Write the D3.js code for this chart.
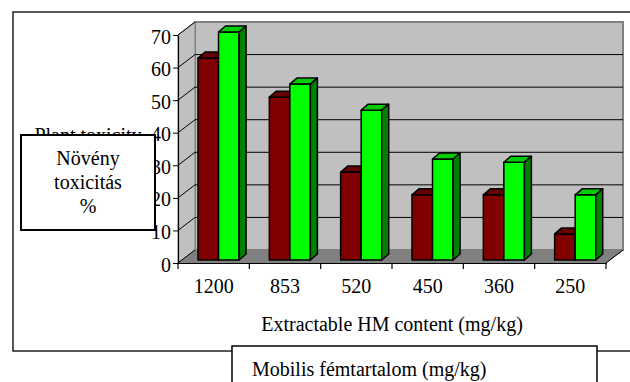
<!DOCTYPE html>
<html>
<head>
<meta charset="utf-8">
<script src="https://cdn.jsdelivr.net/npm/d3@7"></script>
<style>
  html, body { margin: 0; padding: 0; background: #fff; }
  svg text { font-family: "Liberation Serif", "Times New Roman", serif; fill: #000; }
</style>
</head>
<body>
<div id="container"></div>
<script>
// Chart values
var categories = ["1200", "853", "520", "450", "360", "250"];
var redValues = [62, 50, 27, 20, 20, 8];
var greenValues = [70, 54, 46, 31, 30, 20];
var yTicks = [0, 10, 20, 30, 40, 50, 60, 70];
var xTitle = "Extractable HM content (mg/kg)";
var yTitle = "Plant toxicity";
var yBoxLines = ["Növény", "toxicitás", "%"];
var xBoxText = "Mobilis fémtartalom (mg/kg)";

var svg = d3.select("div#container")
  .append("svg")
  .attr("width", 630)
  .attr("height", 382);

// 3D depth of the walls and of the bars
var DX = 17, DY = -13;
var BAR_OX = 4, BAR_OY = -3;
var BAR_DX = 7, BAR_DY = -6;

var x = d3.scaleBand().domain(categories).range([178, 606]).padding(0);
var y = d3.scaleLinear().domain([0, 70]).range([263, 35]);

var x0 = x.range()[0], x1 = x.range()[1];
var y0 = y(0), yTop = y(70);

// Outer frame
svg.append("rect")
  .attr("x", 13).attr("y", 12)
  .attr("width", 640).attr("height", 339)
  .attr("fill", "#fff")
  .attr("stroke", "#222")
  .attr("stroke-width", 1.5);

var pt = function(p) { return p.join(","); };

// Back wall
svg.append("rect")
  .attr("x", x0 + DX).attr("y", yTop + DY)
  .attr("width", x1 - x0).attr("height", y0 - yTop)
  .attr("fill", "#c0c0c0")
  .attr("stroke", "#808080")
  .attr("stroke-width", 2);

// Left wall
svg.append("polygon")
  .attr("points", [[x0, y0], [x0, yTop], [x0 + DX, yTop + DY], [x0 + DX, y0 + DY]].map(pt).join(" "))
  .attr("fill", "#c0c0c0")
  .attr("stroke", "#808080")
  .attr("stroke-width", 1);

// Floor
svg.append("polygon")
  .attr("points", [[x0, y0], [x1, y0], [x1 + DX, y0 + DY], [x0 + DX, y0 + DY]].map(pt).join(" "))
  .attr("fill", "#808080")
  .attr("stroke", "#808080")
  .attr("stroke-width", 1);

// Gridlines on back wall
svg.append("g").selectAll("line")
  .data(yTicks.filter(function(d) { return d > 0 && d < 70; }))
  .enter().append("line")
  .attr("x1", x0 + DX).attr("x2", x1 + DX)
  .attr("y1", function(d) { return y(d) + DY; })
  .attr("y2", function(d) { return y(d) + DY; })
  .attr("stroke", "#000")
  .attr("stroke-width", 1);

// Diagonals on left wall
svg.append("g").selectAll("line")
  .data(yTicks)
  .enter().append("line")
  .attr("x1", x0).attr("x2", x0 + DX)
  .attr("y1", function(d) { return y(d); })
  .attr("y2", function(d) { return y(d) + DY; })
  .attr("stroke", "#000")
  .attr("stroke-width", 1);

// Floor right edge
svg.append("line")
  .attr("x1", x1).attr("y1", y0)
  .attr("x2", x1 + DX).attr("y2", y0 + DY)
  .attr("stroke", "#000")
  .attr("stroke-width", 1);

// Bars
var bw = x.bandwidth();
var barW = bw * 0.288;
var barOffset = bw * 0.224;

var series = [
  {values: redValues, front: "#800000", top: "#660000", side: "#4d0000", shift: 0},
  {values: greenValues, front: "#00ff00", top: "#00cc00", side: "#008000", shift: 1}
];

var bars = [];
categories.forEach(function(c, i) {
  series.forEach(function(s) {
    bars.push({cat: c, value: s.values[i], s: s});
  });
});

var barG = svg.append("g")
  .selectAll("g")
  .data(bars)
  .enter().append("g");

var bx = function(d) { return x(d.cat) + barOffset + d.s.shift * barW + BAR_OX; };
var byTop = function(d) { return y(d.value) + BAR_OY; };
var byBot = y0 + BAR_OY;

barG.append("rect")
  .attr("x", bx)
  .attr("y", byTop)
  .attr("width", barW)
  .attr("height", function(d) { return byBot - byTop(d); })
  .attr("fill", function(d) { return d.s.front; })
  .attr("stroke", "#000")
  .attr("stroke-width", 1.5)
  .attr("stroke-linejoin", "round");

barG.append("polygon")
  .attr("points", function(d) {
    var l = bx(d), t = byTop(d);
    return [[l, t], [l + barW, t], [l + barW + BAR_DX, t + BAR_DY], [l + BAR_DX, t + BAR_DY]].map(pt).join(" ");
  })
  .attr("fill", function(d) { return d.s.top; })
  .attr("stroke", "#000")
  .attr("stroke-width", 1.5)
  .attr("stroke-linejoin", "round");

barG.append("polygon")
  .attr("points", function(d) {
    var r = bx(d) + barW, t = byTop(d);
    return [[r, t], [r + BAR_DX, t + BAR_DY], [r + BAR_DX, byBot + BAR_DY], [r, byBot]].map(pt).join(" ");
  })
  .attr("fill", function(d) { return d.s.side; })
  .attr("stroke", "#000")
  .attr("stroke-width", 1.5)
  .attr("stroke-linejoin", "round");

// Y axis
var yAxis = svg.append("g")
  .attr("transform", "translate(" + x0 + ",0)")
  .call(d3.axisLeft(y).tickValues(yTicks).tickSize(5).tickSizeOuter(0).tickPadding(2).tickFormat(d3.format("d")));
yAxis.select(".domain").attr("stroke", "#000").attr("stroke-width", 1.2);
yAxis.selectAll(".tick line").attr("stroke", "#000");
yAxis.selectAll("text")
  .style("font-size", "20px")
  .attr("dy", "0.4em");

// X axis: labels at band centres, ticks at band edges
var xAxis = svg.append("g")
  .attr("transform", "translate(0," + y0 + ")")
  .call(d3.axisBottom(x).tickSize(0).tickSizeOuter(0));
xAxis.select(".domain").attr("stroke", "#000").attr("stroke-width", 1.2);
xAxis.selectAll("text")
  .style("font-size", "20px")
  .attr("y", 30)
  .attr("dy", 0);

svg.append("g").selectAll("line")
  .data(categories.concat(["end"]))
  .enter().append("line")
  .attr("x1", function(d) { return d === "end" ? x1 : x(d); })
  .attr("x2", function(d) { return d === "end" ? x1 : x(d); })
  .attr("y1", y0).attr("y2", y0 + 6)
  .attr("stroke", "#000")
  .attr("stroke-width", 1.2);

// Axis titles
svg.append("text")
  .attr("x", 392).attr("y", 331)
  .attr("text-anchor", "middle")
  .style("font-size", "20px")
  .text(xTitle);

svg.append("text")
  .attr("x", 88).attr("y", 142)
  .attr("text-anchor", "middle")
  .style("font-size", "20px")
  .text(yTitle);

// Hungarian label boxes laid on top
svg.append("rect")
  .attr("x", 21).attr("y", 135)
  .attr("width", 134).attr("height", 95)
  .attr("fill", "#fff")
  .attr("stroke", "#000")
  .attr("stroke-width", 2);

svg.append("g").selectAll("text")
  .data(yBoxLines)
  .enter().append("text")
  .attr("x", 88)
  .attr("y", function(d, i) { return 165 + i * 24; })
  .attr("text-anchor", "middle")
  .style("font-size", "20px")
  .text(function(d) { return d; });

svg.append("rect")
  .attr("x", 232).attr("y", 346)
  .attr("width", 365).attr("height", 60)
  .attr("fill", "#fff")
  .attr("stroke", "#000")
  .attr("stroke-width", 1.5);

svg.append("text")
  .attr("x", 252).attr("y", 376)
  .style("font-size", "20px")
  .text(xBoxText);
</script>
</body>
</html>
